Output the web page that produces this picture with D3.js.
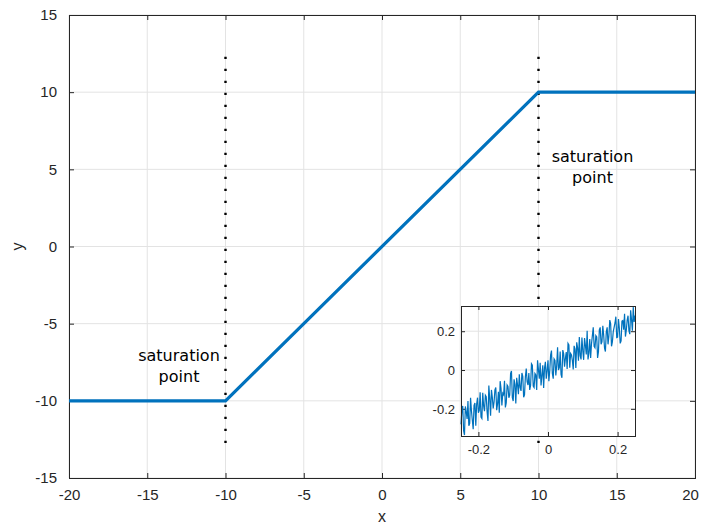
<!DOCTYPE html>
<html>
<head>
<meta charset="utf-8">
<script src="https://cdn.jsdelivr.net/npm/d3@7"></script>
<style>
  body { margin: 0; background: #fff; }
  svg { display: block; }
  .tick text { fill: #262626; font-family: "Liberation Sans", Arial, sans-serif; }
</style>
</head>
<body>
<div id="chart"></div>
<script>
// main signal: linear with saturation at +/-10
var mainX = [-20, -10, 10, 20];
var mainY = [-10, -10, 10, 10];

// dotted markers at the saturation points
var satX = [-10, 10];
var satYRange = [-12.9, 12.3];

// tick values
var xTicks = [-20, -15, -10, -5, 0, 5, 10, 15, 20];
var yTicks = [-15, -10, -5, 0, 5, 10, 15];
var insetXTicks = [-0.2, 0, 0.2];
var insetYTicks = [-0.2, 0, 0.2];

// zoomed-in noisy samples around the origin
var insetX = [
  -0.250, -0.245, -0.240, -0.235, -0.230, -0.225, -0.220, -0.215, -0.210, -0.205,
  -0.200, -0.195, -0.190, -0.185, -0.180, -0.175, -0.170, -0.165, -0.160, -0.155,
  -0.150, -0.145, -0.140, -0.135, -0.130, -0.125, -0.120, -0.115, -0.110, -0.105,
  -0.100, -0.095, -0.090, -0.085, -0.080, -0.075, -0.070, -0.065, -0.060, -0.055,
  -0.050, -0.045, -0.040, -0.035, -0.030, -0.025, -0.020, -0.015, -0.010, -0.005,
  0.000, 0.005, 0.010, 0.015, 0.020, 0.025, 0.030, 0.035, 0.040, 0.045,
  0.050, 0.055, 0.060, 0.065, 0.070, 0.075, 0.080, 0.085, 0.090, 0.095,
  0.100, 0.105, 0.110, 0.115, 0.120, 0.125, 0.130, 0.135, 0.140, 0.145,
  0.150, 0.155, 0.160, 0.165, 0.170, 0.175, 0.180, 0.185, 0.190, 0.195,
  0.200, 0.205, 0.210, 0.215, 0.220, 0.225, 0.230, 0.235, 0.240, 0.245,
  0.250
];
var insetY = [
  -0.280, -0.185, -0.335, -0.215, -0.160, -0.275, -0.210, -0.305, -0.170, -0.175,
  -0.220, -0.115, -0.250, -0.185, -0.130, -0.215, -0.080, -0.235, -0.140, -0.165,
  -0.090, -0.175, -0.220, -0.095, -0.120, -0.055, -0.170, -0.085, -0.130, -0.005,
  -0.160, -0.075, -0.040, -0.125, -0.090, -0.015, -0.140, -0.035, -0.060, -0.015,
  -0.080, 0.025, -0.090, -0.025, 0.050, -0.045, -0.080, 0.025, 0.010, -0.045,
  0.050, -0.005, 0.100, -0.045, 0.050, 0.025, 0.000, 0.095, -0.040, 0.085,
  0.060, 0.005, 0.130, 0.085, 0.050, 0.125, 0.010, 0.115, 0.170, 0.055,
  0.100, 0.165, 0.080, 0.055, 0.160, 0.135, 0.220, 0.115, 0.170, 0.095,
  0.220, 0.145, 0.180, 0.095, 0.220, 0.175, 0.240, 0.145, 0.220, 0.275,
  0.170, 0.215, 0.150, 0.255, 0.290, 0.205, 0.280, 0.185, 0.260, 0.325,
  0.280
];
// samples in between the ones above
var insetMidX = [
  -0.2475, -0.2425, -0.2375, -0.2325, -0.2275, -0.2225, -0.2175, -0.2125, -0.2075, -0.2025,
  -0.1975, -0.1925, -0.1875, -0.1825, -0.1775, -0.1725, -0.1675, -0.1625, -0.1575, -0.1525,
  -0.1475, -0.1425, -0.1375, -0.1325, -0.1275, -0.1225, -0.1175, -0.1125, -0.1075, -0.1025,
  -0.0975, -0.0925, -0.0875, -0.0825, -0.0775, -0.0725, -0.0675, -0.0625, -0.0575, -0.0525,
  -0.0475, -0.0425, -0.0375, -0.0325, -0.0275, -0.0225, -0.0175, -0.0125, -0.0075, -0.0025,
  0.0025, 0.0075, 0.0125, 0.0175, 0.0225, 0.0275, 0.0325, 0.0375, 0.0425, 0.0475,
  0.0525, 0.0575, 0.0625, 0.0675, 0.0725, 0.0775, 0.0825, 0.0875, 0.0925, 0.0975,
  0.1025, 0.1075, 0.1125, 0.1175, 0.1225, 0.1275, 0.1325, 0.1375, 0.1425, 0.1475,
  0.1525, 0.1575, 0.1625, 0.1675, 0.1725, 0.1775, 0.1825, 0.1875, 0.1925, 0.1975,
  0.2025, 0.2075, 0.2125, 0.2175, 0.2225, 0.2275, 0.2325, 0.2375, 0.2425, 0.2475
];
var insetMidY = [
  -0.2075, -0.3125, -0.1875, -0.2525, -0.2875, -0.1425, -0.2575, -0.1825, -0.2875, -0.1425,
  -0.2075, -0.2425, -0.1175, -0.2125, -0.1375, -0.2625, -0.1475, -0.1025, -0.1975, -0.1025,
  -0.2075, -0.1125, -0.0575, -0.1825, -0.1275, -0.1925, -0.0775, -0.1425, -0.0175, -0.1425,
  -0.0475, -0.1725, -0.0775, -0.0225, -0.1075, -0.0325, -0.1275, 0.0075, -0.0775, -0.1025,
  0.0325, -0.0825, -0.0175, -0.1025, 0.0025, 0.0375, -0.0275, -0.0925, 0.0425, -0.0025,
  -0.0575, 0.0775, -0.0175, 0.0575, -0.0275, 0.1175, 0.0125, -0.0225, 0.1025, 0.0175,
  0.0925, 0.1375, 0.0125, 0.0775, 0.0025, 0.1075, 0.1425, 0.0475, 0.0725, 0.1675,
  0.0525, 0.1275, 0.2025, 0.0875, 0.0625, 0.1775, 0.1225, 0.1775, 0.0625, 0.2075,
  0.1325, 0.2275, 0.1125, 0.1975, 0.1325, 0.2575, 0.1225, 0.1975, 0.2425, 0.1675,
  0.2625, 0.1375, 0.2525, 0.2075, 0.1725, 0.2575, 0.2025, 0.3075, 0.2025, 0.2475
];

var lineColor = "#0072bd";
var axisColor = "#262626";
var gridColor = "#e3e3e3";

var W = 702, H = 525;
var margin = { top: 15, right: 7, bottom: 47, left: 69 },
    w = W - margin.left - margin.right,
    h = H - margin.top - margin.bottom;

var svg = d3.select("#chart").append("svg")
    .attr("width", W)
    .attr("height", H);

var g = svg.append("g")
    .attr("transform", "translate(" + margin.left + "," + margin.top + ")");

var x = d3.scaleLinear().domain([-20, 20]).range([0, w]);
var y = d3.scaleLinear().domain([-15, 15]).range([h, 0]);

// matlab style: plain hyphen for negatives
var fmt = function (d) { return String(d); };

//---------------------------- grid ----------------------------
g.append("g").selectAll("line")
    .data(xTicks).enter().append("line")
    .attr("x1", d => x(d)).attr("x2", d => x(d))
    .attr("y1", 0).attr("y2", h)
    .attr("stroke", gridColor);
g.append("g").selectAll("line")
    .data(yTicks).enter().append("line")
    .attr("x1", 0).attr("x2", w)
    .attr("y1", d => y(d)).attr("y2", d => y(d))
    .attr("stroke", gridColor);

//---------------------------- axes ----------------------------
function styleAxis(sel) {
    sel.select(".domain").remove();
    sel.selectAll(".tick line").attr("stroke", axisColor);
}

var xAxisG = g.append("g")
    .attr("transform", "translate(0," + h + ")")
    .call(d3.axisBottom(x).tickValues(xTicks).tickFormat(fmt).tickSize(-5).tickPadding(11))
    .call(styleAxis);
xAxisG.selectAll("text").style("font-size", "15px");
// last label sits a bit inside, like the original
xAxisG.selectAll(".tick").filter(d => d === 20).select("text").attr("dx", -5);

g.append("g")
    .call(d3.axisTop(x).tickValues(xTicks).tickFormat("").tickSize(-5))
    .call(styleAxis);
g.append("g")
    .call(d3.axisLeft(y).tickValues(yTicks).tickFormat(fmt).tickSize(-5).tickPadding(12))
    .call(styleAxis)
    .selectAll("text").style("font-size", "15px");
g.append("g")
    .attr("transform", "translate(" + w + ",0)")
    .call(d3.axisRight(y).tickValues(yTicks).tickFormat("").tickSize(-5))
    .call(styleAxis);

// box
g.append("rect")
    .attr("width", w).attr("height", h)
    .attr("fill", "none")
    .attr("stroke", axisColor)
    .attr("stroke-width", 1)
    .attr("shape-rendering", "crispEdges");

// axis labels
svg.append("text")
    .attr("x", margin.left + x(0))
    .attr("y", 522)
    .attr("text-anchor", "middle")
    .style("font-family", "Liberation Sans, Arial, sans-serif")
    .style("font-size", "16px")
    .attr("fill", axisColor)
    .text("x");
svg.append("text")
    .attr("transform", "translate(23," + (margin.top + y(0)) + ") rotate(-90)")
    .attr("text-anchor", "middle")
    .style("font-family", "Liberation Sans, Arial, sans-serif")
    .style("font-size", "16px")
    .attr("fill", axisColor)
    .text("y");

//---------------------------- dotted saturation lines ----------------------------
g.append("g").selectAll("line")
    .data(satX).enter().append("line")
    .attr("x1", d => x(d)).attr("x2", d => x(d))
    .attr("y1", y(satYRange[1])).attr("y2", y(satYRange[0]))
    .attr("stroke", "#000")
    .attr("stroke-width", 2.4)
    .attr("stroke-dasharray", "2.4,9.6");

//---------------------------- main line ----------------------------
var mainData = mainX.map((d, i) => ({ x: d, y: mainY[i] }));
var line = d3.line().x(d => x(d.x)).y(d => y(d.y));
g.append("path")
    .datum(mainData)
    .attr("d", line)
    .attr("fill", "none")
    .attr("stroke", lineColor)
    .attr("stroke-width", 3.2);

//---------------------------- annotations ----------------------------
function note(cx, by) {
    var t = svg.append("text")
        .attr("text-anchor", "middle")
        .style("font-family", "DejaVu Sans, sans-serif")
        .style("font-size", "16px")
        .attr("fill", "#000");
    t.append("tspan").attr("x", cx).attr("y", by).text("saturation");
    t.append("tspan").attr("x", cx).attr("y", by + 20.5).text("point");
}
note(179, 361);
note(592.5, 162);

//---------------------------- inset ----------------------------
var ix0 = 461, iy0 = 306, iw = 174, ih = 130;
var ig = svg.append("g").attr("transform", "translate(" + ix0 + "," + iy0 + ")");
var xi = d3.scaleLinear().domain([-0.25, 0.25]).range([0, iw]);
var yi = d3.scaleLinear().domain([-0.34, 0.33]).range([ih, 0]);

ig.append("rect").attr("width", iw).attr("height", ih).attr("fill", "#fff");

ig.append("g").selectAll("line")
    .data(insetXTicks).enter().append("line")
    .attr("x1", d => xi(d)).attr("x2", d => xi(d))
    .attr("y1", 0).attr("y2", ih)
    .attr("stroke", gridColor);
ig.append("g").selectAll("line")
    .data(insetYTicks).enter().append("line")
    .attr("x1", 0).attr("x2", iw)
    .attr("y1", d => yi(d)).attr("y2", d => yi(d))
    .attr("stroke", gridColor);

ig.append("g")
    .attr("transform", "translate(0," + ih + ")")
    .call(d3.axisBottom(xi).tickValues(insetXTicks).tickFormat(fmt).tickSize(-4).tickPadding(9))
    .call(styleAxis)
    .selectAll("text").style("font-size", "13px");
ig.append("g")
    .call(d3.axisTop(xi).tickValues(insetXTicks).tickFormat("").tickSize(-4))
    .call(styleAxis);
ig.append("g")
    .call(d3.axisLeft(yi).tickValues(insetYTicks).tickFormat(fmt).tickSize(-4).tickPadding(6))
    .call(styleAxis)
    .selectAll("text").style("font-size", "13px");
ig.append("g")
    .attr("transform", "translate(" + iw + ",0)")
    .call(d3.axisRight(yi).tickValues(insetYTicks).tickFormat("").tickSize(-4))
    .call(styleAxis);

// merge the two sample sets in x order
var insetData = [];
insetX.forEach(function (d, i) {
    insetData.push({ x: d, y: insetY[i] });
    if (i < insetMidX.length) insetData.push({ x: insetMidX[i], y: insetMidY[i] });
});
ig.append("path")
    .datum(insetData)
    .attr("d", d3.line().x(d => xi(d.x)).y(d => yi(d.y)))
    .attr("fill", "none")
    .attr("stroke", lineColor)
    .attr("stroke-width", 1.2);

ig.append("rect")
    .attr("width", iw).attr("height", ih)
    .attr("fill", "none")
    .attr("stroke", axisColor)
    .attr("stroke-width", 1)
    .attr("shape-rendering", "crispEdges");
</script>
</body>
</html>
